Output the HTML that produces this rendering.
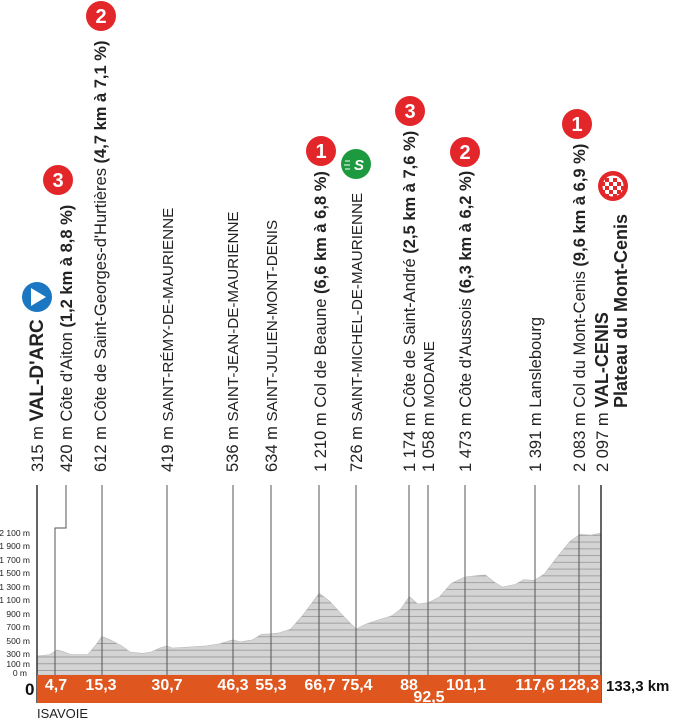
<!DOCTYPE html>
<html><head><meta charset="utf-8"><style>
html,body{margin:0;padding:0;background:#fff;}
svg{display:block;font-family:"Liberation Sans",sans-serif;}
.t{font-size:16.5px;fill:#222;}
.u{font-size:15.2px;}
.b{font-weight:bold;}
.km{font-size:16px;font-weight:bold;fill:#fff;}
.ax{font-size:8.5px;fill:#222;}
</style></head><body>
<svg width="675" height="720" viewBox="0 0 675 720" xmlns="http://www.w3.org/2000/svg">
<defs>
<pattern id="st" patternUnits="userSpaceOnUse" x="0" y="0.8" width="10" height="6.76">
<rect width="10" height="6.76" fill="#d4d4d4"/>
<rect y="0" width="10" height="0.9" fill="#9c9c9c"/>
</pattern>
</defs>
<polygon fill="url(#st)" stroke="#bbb" stroke-width="0.6" points="37,656.1 49.7,654.7 56.9,650 62.4,651.3 70.8,654.7 87.8,654.7 96.2,644.6 101.7,636.5 108.9,639.2 121.6,645.9 130.1,652 142.8,653.4 151.2,652 159.7,648 166.9,645.9 172.4,648 185.1,647.3 206.2,645.9 218.9,643.9 232.9,639.8 240.1,641.9 252.8,639.8 261.2,634.4 271,633.8 278.2,633.1 290.9,629 303.6,614.2 319.2,593.2 328.9,600.6 341.6,614.2 356,629 367,623.6 375.5,620.9 392.4,615.5 400.9,608.8 409.3,596.6 417.8,604 428.4,602.7 439,597.3 451.6,583.1 464.8,577 477,575.6 485.5,575 493.9,581.7 502.4,587.1 515.1,584.4 523.6,579.7 534.6,580.4 544.7,573.6 557.4,556.7 570.1,541.2 579.8,534.4 591.3,535.1 601,533 601,675 37,675"/>
<g stroke="#555" stroke-width="1" fill="none">
<line x1="37" y1="485" x2="37" y2="703" stroke="#333" stroke-width="1.5"/>
<polyline points="66,485 66,528 55,528 55,675"/>
<line x1="102" y1="485" x2="102" y2="675"/>
<line x1="167" y1="485" x2="167" y2="675"/>
<line x1="233" y1="485" x2="233" y2="675"/>
<line x1="271" y1="485" x2="271" y2="675"/>
<line x1="319" y1="485" x2="319" y2="675"/>
<line x1="356" y1="485" x2="356" y2="675"/>
<line x1="409" y1="485" x2="409" y2="675"/>
<line x1="428" y1="485" x2="428" y2="675"/>
<line x1="465" y1="485" x2="465" y2="675"/>
<line x1="535" y1="485" x2="535" y2="675"/>
<line x1="579" y1="485" x2="579" y2="675"/>
<line x1="601" y1="485" x2="601" y2="703" stroke="#333" stroke-width="1.5"/>
</g>
<rect x="37" y="675" width="564" height="28" fill="#e0561f"/>
<g class="ax" text-anchor="end">
<text x="30" y="536">2 100 m</text><text x="30" y="549">1 900 m</text><text x="30" y="563">1 700 m</text><text x="30" y="576">1 500 m</text><text x="30" y="590">1 300 m</text><text x="30" y="603">1 100 m</text><text x="30" y="617">900 m</text><text x="30" y="630">700 m</text><text x="30" y="644">500 m</text><text x="30" y="657">300 m</text><text x="30" y="667">100 m</text><text x="27" y="676">0 m</text>
</g>
<text x="25" y="695" font-size="17" font-weight="bold" fill="#111">0</text>
<g class="km" text-anchor="middle">
<text x="56" y="690">4,7</text><text x="101" y="690">15,3</text><text x="167" y="690">30,7</text><text x="233" y="690">46,3</text><text x="271" y="690">55,3</text><text x="320" y="690">66,7</text><text x="357" y="690">75,4</text><text x="409" y="690">88</text><text x="429" y="702">92,5</text><text x="466" y="690">101,1</text><text x="535" y="690">117,6</text><text x="579" y="690">128,3</text>
</g>
<text x="606" y="691" font-size="15" font-weight="bold" fill="#111">133,3 km</text>
<text x="37" y="718" font-size="13" fill="#222">ISAVOIE</text>
<g class="t" xml:space="preserve">
<text transform="translate(43,472) rotate(-90)">315 m  <tspan class="b" font-size="19">VAL-D'ARC</tspan></text>
<text transform="translate(72,472) rotate(-90)">420 m  Côte d'Aiton  <tspan class="b">(1,2 km à 8,8 %)</tspan></text>
<text transform="translate(106,472) rotate(-90)">612 m  Côte de Saint-Georges-d'Hurtières  <tspan class="b">(4,7 km à 7,1 %)</tspan></text>
<text transform="translate(173,472) rotate(-90)">419 m  <tspan class="u">SAINT-RÉMY-DE-MAURIENNE</tspan></text>
<text transform="translate(238,472) rotate(-90)">536 m  <tspan class="u">SAINT-JEAN-DE-MAURIENNE</tspan></text>
<text transform="translate(277,472) rotate(-90)">634 m  <tspan class="u">SAINT-JULIEN-MONT-DENIS</tspan></text>
<text transform="translate(326,472) rotate(-90)">1 210 m  Col de Beaune  <tspan class="b">(6,6 km à 6,8 %)</tspan></text>
<text transform="translate(362,472) rotate(-90)">726 m  <tspan class="u">SAINT-MICHEL-DE-MAURIENNE</tspan></text>
<text transform="translate(415,472) rotate(-90)">1 174 m  Côte de Saint-André <tspan class="b">(2,5 km à 7,6 %)</tspan></text>
<text transform="translate(434,472) rotate(-90)">1 058 m  <tspan class="u">MODANE</tspan></text>
<text transform="translate(471,472) rotate(-90)">1 473 m  Côte d'Aussois <tspan class="b">(6,3 km à 6,2 %)</tspan></text>
<text transform="translate(541,472) rotate(-90)">1 391 m  Lanslebourg</text>
<text transform="translate(585,472) rotate(-90)">2 083 m  Col du Mont-Cenis <tspan class="b">(9,6 km à 6,9 %)</tspan></text>
<text transform="translate(608,472) rotate(-90)">2 097 m  <tspan class="b" font-size="18">VAL-CENIS</tspan></text>
<text transform="translate(627,408) rotate(-90)" class="b" font-size="18">Plateau du Mont-Cenis</text>
</g>
<g font-weight="bold" font-size="20" fill="#fff" text-anchor="middle">
<circle cx="58" cy="180" r="15" fill="#e3262a"/><text x="58" y="187">3</text>
<circle cx="101" cy="16" r="15" fill="#e3262a"/><text x="101" y="23">2</text>
<circle cx="321" cy="151" r="15" fill="#e3262a"/><text x="321" y="158">1</text>
<circle cx="410" cy="111" r="15" fill="#e3262a"/><text x="410" y="118">3</text>
<circle cx="465" cy="152" r="15" fill="#e3262a"/><text x="465" y="159">2</text>
<circle cx="577" cy="124" r="15" fill="#e3262a"/><text x="577" y="131">1</text>
<circle cx="356" cy="164" r="15" fill="#1d9a3f"/><text x="359" y="170" font-size="15" font-style="italic">S</text>
</g>
<g stroke="#fff" stroke-width="1"><line x1="345" y1="161" x2="350" y2="161"/><line x1="344" y1="165" x2="350" y2="165"/><line x1="345" y1="169" x2="350" y2="169"/></g>
<circle cx="37" cy="297" r="15" fill="#1b77c2"/>
<polygon points="31,288 31,306 46,297" fill="#fff"/>
<circle cx="613" cy="186" r="15" fill="#e3262a"/>
<circle cx="613" cy="186" r="10.5" fill="#fff"/>
<g fill="#e3262a">
<rect x="605" y="178" width="4" height="4"/><rect x="613" y="178" width="4" height="4"/>
<rect x="609" y="182" width="4" height="4"/><rect x="617" y="182" width="4" height="4"/><rect x="601" y="182" width="4" height="4"/>
<rect x="605" y="186" width="4" height="4"/><rect x="613" y="186" width="4" height="4"/><rect x="621" y="186" width="3" height="4"/>
<rect x="609" y="190" width="4" height="4"/><rect x="617" y="190" width="4" height="4"/><rect x="601" y="190" width="4" height="4"/>
<rect x="605" y="194" width="4" height="3"/><rect x="613" y="194" width="4" height="3"/>
</g>
</svg>
</body></html>
